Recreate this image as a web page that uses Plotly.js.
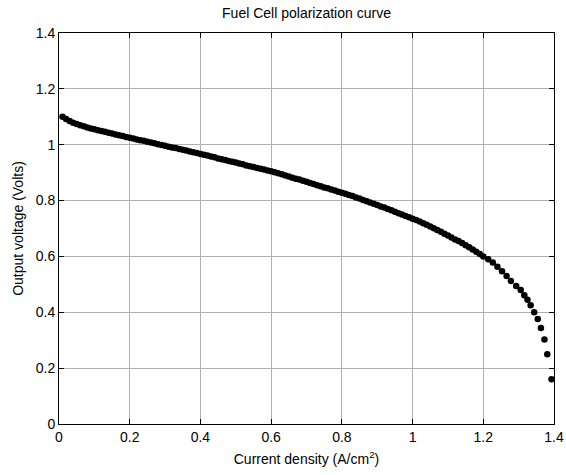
<!DOCTYPE html>
<html>
<head>
<meta charset="utf-8">
<script src="https://cdn.plot.ly/plotly-3.0.1.min.js"></script>
<style>html,body{margin:0;padding:0;background:#fff;}#chart{width:566px;height:475px;}</style>
</head>
<body>
<div id="chart"></div>
<script>
// Current density (A/cm^2)
const currentDensity = [
  0.01,0.02,0.03,0.04,0.05,0.06,0.07,0.08,0.09,0.10,
  0.11,0.12,0.13,0.14,0.15,0.16,0.17,0.18,0.19,0.20,
  0.21,0.22,0.23,0.24,0.25,0.26,0.27,0.28,0.29,0.30,
  0.31,0.32,0.33,0.34,0.35,0.36,0.37,0.38,0.39,0.40,
  0.41,0.42,0.43,0.44,0.45,0.46,0.47,0.48,0.49,0.50,
  0.51,0.52,0.53,0.54,0.55,0.56,0.57,0.58,0.59,0.60,
  0.61,0.62,0.63,0.64,0.65,0.66,0.67,0.68,0.69,0.70,
  0.71,0.72,0.73,0.74,0.75,0.76,0.77,0.78,0.79,0.80,
  0.81,0.82,0.83,0.84,0.85,0.86,0.87,0.88,0.89,0.90,
  0.91,0.92,0.93,0.94,0.95,0.96,0.97,0.98,0.99,1.00,
  1.01,1.02,1.03,1.04,1.05,1.06,1.07,1.08,1.09,1.10,
  1.11,1.12,1.13,1.14,1.15,1.16,1.17,1.18,1.19,1.20,
  1.214,1.227,1.240,1.253,1.266,1.278,1.293,1.306,1.316,
  1.325,1.334,1.344,1.354,1.363,1.373,1.381,1.393
];
// Output voltage (Volts)
const outputVoltage = [
  1.100,1.092,1.085,1.079,1.074,1.070,1.066,1.062,1.058,1.055,
  1.052,1.049,1.046,1.043,1.040,1.037,1.034,1.031,1.028,1.025,
  1.022,1.019,1.016,1.014,1.011,1.008,1.005,1.002,0.999,0.996,
  0.993,0.990,0.988,0.985,0.982,0.979,0.976,0.973,0.970,0.967,
  0.964,0.961,0.958,0.955,0.951,0.948,0.945,0.942,0.939,0.936,
  0.933,0.930,0.926,0.923,0.920,0.917,0.914,0.911,0.908,0.905,
  0.901,0.898,0.894,0.890,0.886,0.882,0.878,0.875,0.871,0.867,
  0.863,0.859,0.855,0.851,0.847,0.844,0.840,0.836,0.832,0.828,
  0.824,0.820,0.816,0.811,0.807,0.802,0.798,0.793,0.789,0.784,
  0.779,0.775,0.770,0.765,0.760,0.755,0.750,0.745,0.740,0.735,
  0.730,0.725,0.719,0.713,0.707,0.701,0.695,0.688,0.681,0.675,
  0.668,0.661,0.655,0.648,0.640,0.633,0.625,0.617,0.609,0.600,
  0.590,0.578,0.563,0.547,0.530,0.512,0.494,0.480,0.461,
  0.445,0.425,0.400,0.376,0.344,0.303,0.250,0.160
];
const tickValues = [0,0.2,0.4,0.6,0.8,1,1.2,1.4];
const tickLabels = ["0","0.2","0.4","0.6","0.8","1","1.2","1.4"];
const chartTitle = "Fuel Cell polarization curve";
const xTitle = "Current density (A/cm<sup>2</sup>)";
const yTitle = "Output voltage (Volts)";

const font = {family: "Liberation Sans, Arial, sans-serif", size: 14, color: "#000"};
const axisCommon = {
  range: [0, 1.4],
  tickmode: "array",
  tickvals: tickValues,
  ticktext: tickLabels,
  ticks: "inside",
  ticklen: 5,
  tickcolor: "#000",
  tickwidth: 1,
  showline: true,
  linecolor: "#000",
  linewidth: 1,
  mirror: "ticks",
  showgrid: true,
  gridcolor: "#b0b0b0",
  gridwidth: 1,
  zeroline: false,
  tickfont: font,
  automargin: false
};

const data = [{
  type: "scatter",
  mode: "markers",
  x: currentDensity,
  y: outputVoltage,
  marker: {color: "#000", size: 6.5},
  cliponaxis: false,
  hoverinfo: "x+y"
}];

const layout = {
  width: 566,
  height: 475,
  margin: {l: 59, r: 12, t: 33, b: 51, pad: 0},
  paper_bgcolor: "#fff",
  plot_bgcolor: "#fff",
  font: font,
  showlegend: false,
  title: {text: chartTitle, font: font, x: 0.5, xanchor: "center", y: 0.972, yanchor: "middle", xref: "paper"},
  xaxis: Object.assign({}, axisCommon, {title: {text: xTitle, font: font, standoff: 10}}),
  yaxis: Object.assign({}, axisCommon, {title: {text: yTitle, font: font, standoff: 8}})
};

Plotly.newPlot("chart", data, layout, {displayModeBar: false, staticPlot: true});
</script>
</body>
</html>
